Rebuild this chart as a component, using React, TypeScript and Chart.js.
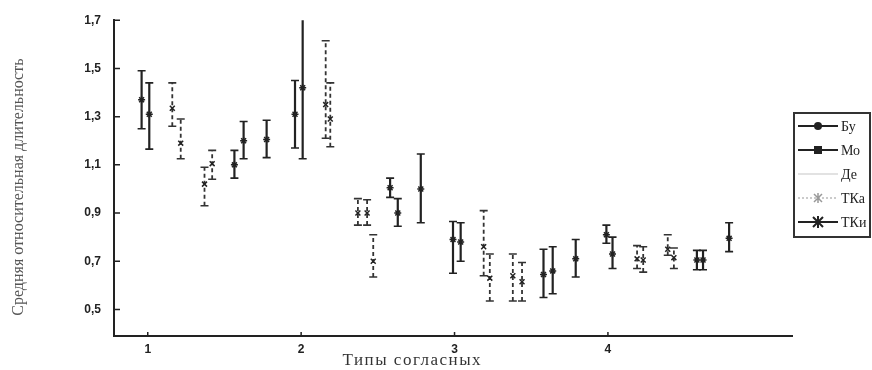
import React, { useEffect, useRef } from "react";
import { Chart, registerables } from "chart.js";

Chart.register(...registerables);

// ---- data ----
const seriesNames = ["Бу", "Мо", "Де", "ТКа", "ТКи"];
const xTickValues = [1, 2, 3, 4];
const yTickValues = [0.5, 0.7, 0.9, 1.1, 1.3, 1.5, 1.7];
const xTitle = "Типы согласных";
const yTitle = "Средняя относительная длительность";

const buX = [0.96, 1.01, 1.96, 2.01, 2.99, 3.04, 3.99, 4.03];
const buMean = [1.37, 1.31, 1.31, 1.42, 0.79, 0.78, 0.81, 0.73];
const buLow = [1.25, 1.165, 1.17, 1.125, 0.65, 0.7, 0.775, 0.67];
const buHigh = [1.49, 1.44, 1.45, 1.72, 0.865, 0.86, 0.85, 0.8];

const moX = [1.565, 1.625, 2.58, 2.63, 3.58, 3.64, 4.58, 4.62];
const moMean = [1.1, 1.2, 1.005, 0.9, 0.645, 0.66, 0.705, 0.705];
const moLow = [1.045, 1.125, 0.965, 0.845, 0.55, 0.565, 0.665, 0.665];
const moHigh = [1.16, 1.28, 1.045, 0.96, 0.75, 0.76, 0.745, 0.745];

const deX = [1.37, 1.42, 2.37, 2.43, 2.47, 3.38, 3.44, 4.39, 4.43];
const deMean = [1.02, 1.105, 0.9, 0.9, 0.7, 0.64, 0.615, 0.75, 0.715];
const deLow = [0.93, 1.04, 0.85, 0.85, 0.635, 0.535, 0.535, 0.725, 0.67];
const deHigh = [1.09, 1.16, 0.96, 0.955, 0.81, 0.73, 0.695, 0.81, 0.755];

const tkaX = [1.16, 1.215, 2.16, 2.19, 3.19, 3.23, 4.19, 4.23];
const tkaMean = [1.335, 1.19, 1.35, 1.29, 0.76, 0.63, 0.71, 0.705];
const tkaLow = [1.26, 1.125, 1.21, 1.175, 0.64, 0.535, 0.67, 0.655];
const tkaHigh = [1.44, 1.29, 1.615, 1.44, 0.91, 0.73, 0.765, 0.76];

const tkiX = [1.775, 2.78, 3.79, 4.79];
const tkiMean = [1.205, 1.0, 0.71, 0.795];
const tkiLow = [1.13, 0.86, 0.635, 0.74];
const tkiHigh = [1.285, 1.145, 0.79, 0.86];

const build = (xs: number[], m: number[], lo: number[], hi: number[]) =>
  xs.map((x, i) => ({ x, y: m[i], low: lo[i], high: hi[i] }));

const INK = "#222";

const errorBarPlugin = {
  id: "errorBars",
  beforeDatasetsDraw(chart: any) {
    const { ctx, chartArea, scales } = chart;
    const xs = scales.x;
    const ys = scales.y;
    ctx.save();
    ctx.beginPath();
    ctx.rect(chartArea.left, chartArea.top, chartArea.right - chartArea.left, chartArea.bottom - chartArea.top);
    ctx.clip();
    chart.data.datasets.forEach((ds: any) => {
      ds.data.forEach((p: any) => {
        const px = xs.getPixelForValue(p.x);
        const yl = ys.getPixelForValue(p.low);
        const yh = ys.getPixelForValue(p.high);
        ctx.strokeStyle = ds.barColor;
        ctx.lineWidth = ds.barWidth;
        ctx.setLineDash(ds.barDash);
        ctx.beginPath();
        ctx.moveTo(px, yl);
        ctx.lineTo(px, yh);
        ctx.stroke();
        ctx.setLineDash([]);
        ctx.lineWidth = 1.6;
        ctx.beginPath();
        ctx.moveTo(px - 4, yl);
        ctx.lineTo(px + 4, yl);
        ctx.moveTo(px - 4, yh);
        ctx.lineTo(px + 4, yh);
        ctx.stroke();
      });
    });
    ctx.restore();
  },
};

function drawMarker(ctx: CanvasRenderingContext2D, kind: string, x: number, y: number, color: string) {
  ctx.save();
  ctx.strokeStyle = color;
  ctx.fillStyle = color;
  ctx.lineWidth = 1.5;
  ctx.setLineDash([]);
  if (kind === "circle") {
    ctx.beginPath();
    ctx.arc(x, y, 4, 0, Math.PI * 2);
    ctx.fill();
  } else if (kind === "rect") {
    ctx.fillRect(x - 4, y - 4, 8, 8);
  } else if (kind === "cross") {
    ctx.beginPath();
    ctx.moveTo(x - 4, y - 4);
    ctx.lineTo(x + 4, y + 4);
    ctx.moveTo(x + 4, y - 4);
    ctx.lineTo(x - 4, y + 4);
    ctx.moveTo(x, y - 5);
    ctx.lineTo(x, y + 5);
    ctx.stroke();
  } else if (kind === "star") {
    ctx.lineWidth = 2;
    ctx.beginPath();
    ctx.moveTo(x - 5, y - 5);
    ctx.lineTo(x + 5, y + 5);
    ctx.moveTo(x + 5, y - 5);
    ctx.lineTo(x - 5, y + 5);
    ctx.moveTo(x, y - 6);
    ctx.lineTo(x, y + 6);
    ctx.stroke();
  }
  ctx.restore();
}

const decorPlugin = {
  id: "decor",
  afterDraw(chart: any) {
    const { ctx, chartArea, scales } = chart;
    const xs = scales.x;
    const ys = scales.y;
    ctx.save();
    // inward tick marks
    ctx.strokeStyle = INK;
    ctx.lineWidth = 1.5;
    ctx.beginPath();
    yTickValues.forEach((v) => {
      const py = ys.getPixelForValue(v);
      ctx.moveTo(chartArea.left, py);
      ctx.lineTo(chartArea.left + 6, py);
    });
    xTickValues.forEach((v) => {
      const px = xs.getPixelForValue(v);
      ctx.moveTo(px, chartArea.bottom);
      ctx.lineTo(px, chartArea.bottom - 4);
    });
    ctx.stroke();

    // axis titles
    ctx.fillStyle = "#555";
    ctx.font = '16px "Liberation Serif", "Times New Roman", serif';
    ctx.textAlign = "center";
    ctx.textBaseline = "middle";
    ctx.save();
    ctx.translate(19, (chartArea.top + chartArea.bottom) / 2 + 9);
    ctx.rotate(-Math.PI / 2);
    ctx.fillText(yTitle, 0, 0);
    ctx.restore();
    ctx.save();
    ctx.fillStyle = "#333";
    ctx.font = '17px "Liberation Serif", "Times New Roman", serif';
    (ctx as any).letterSpacing = "1.5px";
    ctx.fillText(xTitle, chartArea.left + (chartArea.right - chartArea.left) * 0.44, chartArea.bottom + 25);
    ctx.restore();

    // legend
    const bx = chartArea.right + 2;
    const by = 113;
    const bw = 76;
    const bh = 124;
    ctx.strokeStyle = "#333";
    ctx.lineWidth = 2;
    ctx.strokeRect(bx, by, bw, bh);
    ctx.textAlign = "left";
    ctx.textBaseline = "middle";
    ctx.font = '14px "Liberation Serif", "Times New Roman", serif';
    chart.data.datasets.forEach((ds: any, i: number) => {
      const ly = by + 13 + i * 24;
      ctx.save();
      ctx.strokeStyle = ds.legendLineColor;
      ctx.lineWidth = ds.legendLineWidth;
      ctx.setLineDash(ds.legendDash);
      ctx.beginPath();
      ctx.moveTo(bx + 4, ly);
      ctx.lineTo(bx + 44, ly);
      ctx.stroke();
      ctx.restore();
      drawMarker(ctx, ds.legendMarker, bx + 24, ly, ds.legendMarkerColor);
      ctx.fillStyle = INK;
      ctx.fillText(ds.label, bx + 47, ly + 1);
    });
    ctx.restore();
  },
};

export default function App() {
  const ref = useRef<HTMLCanvasElement | null>(null);
  useEffect(() => {
    if (!ref.current) return;
    const tickFont = { family: '"Liberation Sans", Arial, sans-serif', size: 12, weight: "bold" as const };
    const common = { pointRadius: 3.5, pointBorderWidth: 1.5, pointBorderColor: INK, pointBackgroundColor: INK, showLine: false };
    const chart = new Chart(ref.current, {
      type: "scatter",
      data: {
        datasets: [
          { ...common, label: seriesNames[0], data: build(buX, buMean, buLow, buHigh), pointStyle: "star",
            barColor: INK, barWidth: 2.2, barDash: [], legendLineColor: INK, legendLineWidth: 2, legendDash: [], legendMarker: "circle", legendMarkerColor: INK } as any,
          { ...common, label: seriesNames[1], data: build(moX, moMean, moLow, moHigh), pointStyle: "star",
            barColor: INK, barWidth: 2.2, barDash: [], legendLineColor: INK, legendLineWidth: 2, legendDash: [], legendMarker: "rect", legendMarkerColor: INK } as any,
          { ...common, label: seriesNames[2], data: build(deX, deMean, deLow, deHigh), pointStyle: "crossRot",
            barColor: "#333", barWidth: 1.8, barDash: [4, 3], legendLineColor: "#e2e2e2", legendLineWidth: 2, legendDash: [], legendMarker: "none", legendMarkerColor: "#ddd" } as any,
          { ...common, label: seriesNames[3], data: build(tkaX, tkaMean, tkaLow, tkaHigh), pointStyle: "crossRot",
            barColor: "#333", barWidth: 1.8, barDash: [4, 3], legendLineColor: "#bbb", legendLineWidth: 1.5, legendDash: [2, 2], legendMarker: "cross", legendMarkerColor: "#999" } as any,
          { ...common, label: seriesNames[4], data: build(tkiX, tkiMean, tkiLow, tkiHigh), pointStyle: "star",
            barColor: INK, barWidth: 2.2, barDash: [], legendLineColor: INK, legendLineWidth: 2, legendDash: [], legendMarker: "star", legendMarkerColor: INK } as any,
        ],
      },
      options: {
        animation: false,
        responsive: false,
        layout: { padding: { top: 18, right: 80, left: 0, bottom: 0 } },
        plugins: { legend: { display: false }, tooltip: { enabled: false } },
        scales: {
          x: {
            type: "linear",
            min: 0.78,
            max: 5.2,
            afterBuildTicks: (s: any) => { s.ticks = xTickValues.map((v) => ({ value: v })); },
            afterFit: (s: any) => { s.height = 34; },
            grid: { display: false, drawTicks: false },
            border: { display: true, color: INK, width: 2 },
            ticks: { padding: 6, color: INK, font: tickFont, callback: (v: any) => String(v) },
          },
          y: {
            type: "linear",
            min: 0.39,
            max: 1.7,
            afterBuildTicks: (s: any) => { s.ticks = yTickValues.map((v) => ({ value: v })); },
            afterFit: (s: any) => { s.width = 114; },
            grid: { display: false, drawTicks: false },
            border: { display: true, color: INK, width: 2 },
            ticks: { padding: 13, color: INK, font: tickFont, callback: (v: any) => Number(v).toFixed(1).replace(".", ",") },
          },
        },
      },
      plugins: [errorBarPlugin, decorPlugin],
    });
    return () => chart.destroy();
  }, []);
  return (
    <div style={{ position: "absolute", left: 0, top: 0, width: 872, height: 370, background: "#fff" }}>
      <canvas ref={ref} width={872} height={370} style={{ display: "block" }} />
    </div>
  );
}
